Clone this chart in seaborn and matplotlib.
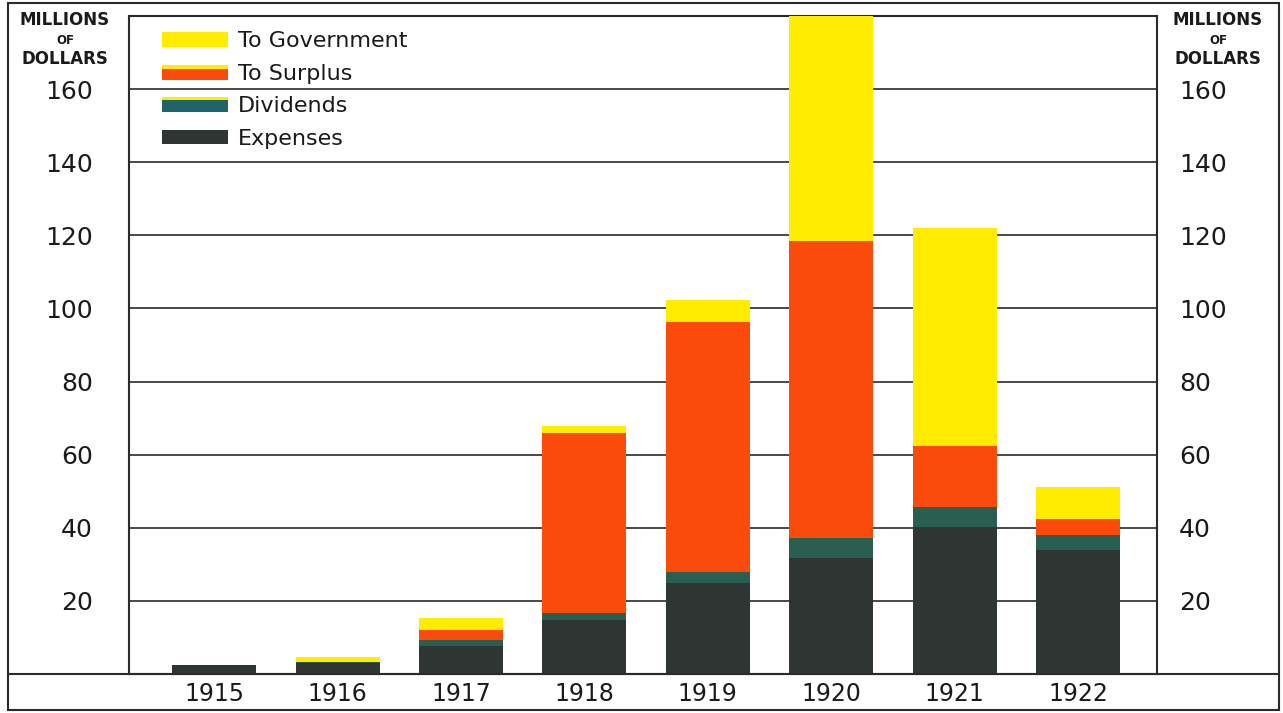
import numpy as np
import pandas as pd
import matplotlib
matplotlib.use("Agg")
import matplotlib.pyplot as plt
import seaborn as sns
from matplotlib.patches import Rectangle
from matplotlib.lines import Line2D
from matplotlib.legend_handler import HandlerBase

# Earnings distribution, millions of dollars
years = ["1915", "1916", "1917", "1918", "1919", "1920", "1921", "1922"]
expenses = [2.4, 3.0, 7.6, 14.8, 24.9, 31.8, 40.3, 34.0]
dividends = [0.0, 0.4, 1.7, 1.9, 3.0, 5.5, 5.5, 4.1]
to_surplus = [0.0, 0.0, 2.7, 49.3, 68.5, 81.1, 16.7, 4.4]
to_government = [0.0, 1.3, 3.3, 1.9, 5.8, 62.4, 59.4, 8.7]

y_ticks = [20, 40, 60, 80, 100, 120, 140, 160]
series_labels = ["To Government", "To Surplus", "Dividends", "Expenses"]

C_YELLOW = "#FFEC00"
C_ORANGE = "#FA4A0C"
C_TEAL = "#2A5E50"
C_DARK = "#2F3532"
C_LINE = "#2a2a2a"

sns.set_theme(style="white")
plt.rcParams["font.family"] = ["DejaVu Sans"]

df = pd.DataFrame({
    "year": years,
    "expenses": expenses,
    "dividends": dividends,
    "surplus": to_surplus,
    "government": to_government,
})
df["lvl1"] = df["expenses"]
df["lvl2"] = df["lvl1"] + df["dividends"]
df["lvl3"] = df["lvl2"] + df["surplus"]
df["lvl4"] = df["lvl3"] + df["government"]

fig = plt.figure(figsize=(12.83, 7.13), dpi=100)
fig.patch.set_facecolor("white")
ax = fig.add_axes([129 / 1283, 1 - 674 / 713, (1157 - 129) / 1283, (674 - 16) / 713])

# stacked bars: draw cumulative totals from the top layer down
for col, color in [("lvl4", C_YELLOW), ("lvl3", C_ORANGE), ("lvl2", C_TEAL), ("lvl1", C_DARK)]:
    sns.barplot(data=df, x="year", y=col, color=color, saturation=1, width=0.68,
                errorbar=None, linewidth=0, ax=ax, zorder=3)

ax.set_xlim(-0.69, 7.64)
ax.set_ylim(0, 180)
ax.set_xlabel("")
ax.set_ylabel("")
ax.set_yticks(y_ticks)
ax.yaxis.grid(True, color=C_LINE, linewidth=1.2, zorder=1)
ax.set_axisbelow(True)
ax.tick_params(axis="x", length=0, pad=6, labelsize=17, labelcolor="#1a1a1a")
ax.tick_params(axis="y", length=0, pad=26, labelsize=18, labelcolor="#1a1a1a")
for s in ax.spines.values():
    s.set_visible(True)
    s.set_color(C_LINE)
    s.set_linewidth(1.5)

ax2 = ax.twinx()
ax2.set_ylim(ax.get_ylim())
ax2.set_yticks(y_ticks)
ax2.tick_params(axis="y", length=0, pad=16, labelsize=18, labelcolor="#1a1a1a")
for s in ax2.spines.values():
    s.set_visible(False)
ax2.grid(False)


class StripedPatch:
    def __init__(self, colors, fracs):
        self.colors = colors
        self.fracs = fracs


class StripedHandler(HandlerBase):
    def create_artists(self, legend, orig_handle, xdescent, ydescent,
                       width, height, fontsize, trans):
        arts = []
        y = -ydescent + height
        for c, f in zip(orig_handle.colors, orig_handle.fracs):
            h = height * f
            y -= h
            r = Rectangle((-xdescent, y), width, h, facecolor=c, edgecolor="none",
                          transform=trans)
            arts.append(r)
        return arts


handles = [
    StripedPatch([C_YELLOW], [1.0]),
    StripedPatch([C_YELLOW, C_ORANGE], [0.3, 0.7]),
    StripedPatch([C_YELLOW, "#1E6468"], [0.22, 0.78]),
    StripedPatch([C_DARK], [1.0]),
]
leg = ax.legend(handles, series_labels, handler_map={StripedPatch: StripedHandler()},
                loc="upper left", bbox_to_anchor=(0.023, 0.99), frameon=False,
                fontsize=16, handlelength=3.0, handleheight=0.65,
                handletextpad=0.45, labelspacing=0.56, borderaxespad=0)
for t in leg.get_texts():
    t.set_color("#1a1a1a")

# unit captions on both sides
for xc in (65 / 1283, 1218 / 1283):
    fig.text(xc, 1 - 20 / 713, "MILLIONS", ha="center", va="center",
             fontsize=12, fontweight="bold", color="#1a1a1a")
    fig.text(xc, 1 - 40 / 713, "OF", ha="center", va="center",
             fontsize=8.5, fontweight="bold", color="#1a1a1a")
    fig.text(xc, 1 - 59 / 713, "DOLLARS", ha="center", va="center",
             fontsize=12, fontweight="bold", color="#1a1a1a")

# outer frame and full-width base line
fig.add_artist(Rectangle((8 / 1283, 3 / 713), (1279 - 8) / 1283, (710 - 3) / 713,
                         transform=fig.transFigure, fill=False,
                         edgecolor=C_LINE, linewidth=1.5))
fig.add_artist(Line2D([8 / 1283, 1279 / 1283], [1 - 674 / 713, 1 - 674 / 713],
                      transform=fig.transFigure, color=C_LINE, linewidth=1.5))

fig.savefig("out.png", dpi=100, facecolor="white")
